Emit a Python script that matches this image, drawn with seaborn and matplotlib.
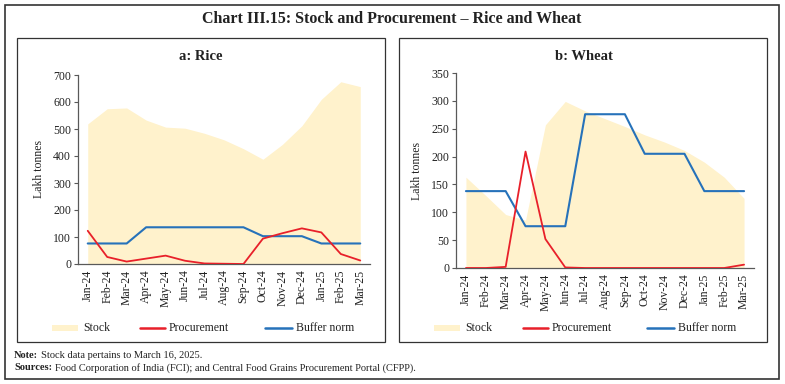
import matplotlib
matplotlib.use("Agg")
import matplotlib.pyplot as plt
from matplotlib.patches import Rectangle
from matplotlib.lines import Line2D
from matplotlib.transforms import offset_copy
import seaborn as sns
import pandas as pd
import numpy as np

months = ["Jan-24", "Feb-24", "Mar-24", "Apr-24", "May-24", "Jun-24", "Jul-24", "Aug-24",
          "Sep-24", "Oct-24", "Nov-24", "Dec-24", "Jan-25", "Feb-25", "Mar-25"]

rice_stock = [519, 575, 578, 533, 507, 503, 484, 460, 427, 388, 443, 512, 610, 675, 657]
rice_procurement = [123, 26, 9, 20, 31, 12, 2, 1, 0, 94, 114, 132, 117, 37, 13]
rice_buffer = [76, 76, 76, 136, 136, 136, 136, 136, 136, 103, 103, 103, 76, 76, 76]

wheat_stock = [163, 130, 96, 86, 257, 299, 282, 268, 254, 239, 226, 211, 190, 163, 125]
wheat_procurement = [0, 0, 2, 209, 52, 1, 0, 0, 0, 0, 0, 0, 0, 0, 6]
wheat_buffer = [138, 138, 138, 75, 75, 75, 276, 276, 276, 205, 205, 205, 138, 138, 138]

STOCK_C = "#FFF2CC"
PROC_C = "#E8202A"
BUF_C = "#2672BA"
SPINE_C = "#595959"

sns.set_theme(style="white")
plt.rcParams["font.family"] = ["Liberation Serif", "DejaVu Serif"]

fig = plt.figure(figsize=(7.85, 3.84), dpi=100)
W, H = 785, 384

def px_rect(x0, y0, x1, y1, lw=1.0):
    fig.patches.append(Rectangle((x0 / W, 1 - y1 / H), (x1 - x0) / W, (y1 - y0) / H,
                                 transform=fig.transFigure, fill=False,
                                 edgecolor="#333333", linewidth=lw, zorder=0))

px_rect(5, 5, 779, 379, 1.2)
px_rect(17, 38, 385, 342, 0.9)
px_rect(399, 38, 767, 342, 0.9)

fig.text(392 / W, 1 - 19 / H, "Chart III.15: Stock and Procurement – Rice and Wheat",
         ha="center", va="center", fontsize=11.5, fontweight="bold", color="#222222")

def make_panel(rect, stock, proc, buf, ymax, step, title, title_x):
    ax = fig.add_axes(rect)
    df = pd.DataFrame({"x": np.arange(len(months)), "Stock": stock,
                       "Procurement": proc, "Buffer norm": buf})
    ax.fill_between(df["x"], 0, df["Stock"], color=STOCK_C, linewidth=0, zorder=1)
    sns.lineplot(data=df, x="x", y="Procurement", ax=ax, color=PROC_C, linewidth=1.3, zorder=3)
    sns.lineplot(data=df, x="x", y="Buffer norm", ax=ax, color=BUF_C, linewidth=1.5, zorder=2)
    ax.set_xlim(-0.5, len(months) - 0.5)
    ax.set_ylim(0, ymax)
    ax.set_yticks(np.arange(0, ymax + 1, step))
    ax.set_xticks(np.arange(len(months)))
    ax.set_xticklabels(months, rotation=90, fontsize=8.5, color="#222222")
    ax.set_xticks(np.arange(-0.5, len(months), 1), minor=True)
    ax.tick_params(axis="x", which="major", length=0, pad=4)
    ax.tick_params(axis="x", which="minor", length=4, width=0.8, color=SPINE_C, direction="out")
    ax.tick_params(axis="y", length=3, width=0.8, color=SPINE_C, direction="out",
                   labelsize=8.5, labelcolor="#222222", pad=2, left=True)
    ax.set_xlabel("")
    ax.set_ylabel("Lakh tonnes", fontsize=8.5, color="#222222", labelpad=6)
    for s in ["top", "right"]:
        ax.spines[s].set_visible(False)
    for s in ["left", "bottom"]:
        ax.spines[s].set_color(SPINE_C)
        ax.spines[s].set_linewidth(0.9)
    ax.grid(False)
    fig.text(title_x / W, 1 - 57 / H, title, ha="center", va="center",
             fontsize=10.5, fontweight="bold", color="#222222")
    return ax

make_panel([78 / W, 1 - 264 / H, (370 - 78) / W, (264 - 75) / H],
           rice_stock, rice_procurement, rice_buffer, 700, 100, "a: Rice", 201)
make_panel([456 / W, 1 - 268 / H, (754 - 456) / W, (268 - 73) / H],
           wheat_stock, wheat_procurement, wheat_buffer, 350, 50, "b: Wheat", 584)

def legend(x_stock, x_proc, x_buf, y):
    yf = 1 - y / H
    fig.patches.append(Rectangle((x_stock / W, yf - 3 / H), 26 / W, 6 / H,
                                 transform=fig.transFigure, color=STOCK_C, linewidth=0))
    fig.text((x_stock + 31) / W, yf, "Stock", fontsize=8.5, va="center", color="#222222")
    fig.lines.append(Line2D([x_proc / W, (x_proc + 25) / W], [yf, yf], transform=fig.transFigure,
                            color=PROC_C, linewidth=1.8))
    fig.text((x_proc + 29) / W, yf, "Procurement", fontsize=8.5, va="center", color="#222222")
    fig.lines.append(Line2D([x_buf / W, (x_buf + 27) / W], [yf, yf], transform=fig.transFigure,
                            color=BUF_C, linewidth=1.8))
    fig.text((x_buf + 31) / W, yf, "Buffer norm", fontsize=8.5, va="center", color="#222222")

legend(52, 140, 265, 328)
legend(434, 523, 647, 328)

renderer = fig.canvas.get_renderer()

def note_line(y, bold, rest):
    t = fig.text(14 / W, 1 - y / H, bold, fontsize=7.5, fontweight="bold",
                 va="center", color="#222222")
    bb = t.get_window_extent(renderer=renderer)
    fig.text((bb.x1 + 3) / W, 1 - y / H, rest, fontsize=7.5, va="center", color="#222222")

note_line(355, "Note:", "Stock data pertains to March 16, 2025.")
note_line(368, "Sources:",
          "Food Corporation of India (FCI); and Central Food Grains Procurement Portal (CFPP).")

fig.savefig("out.png", dpi=100)
